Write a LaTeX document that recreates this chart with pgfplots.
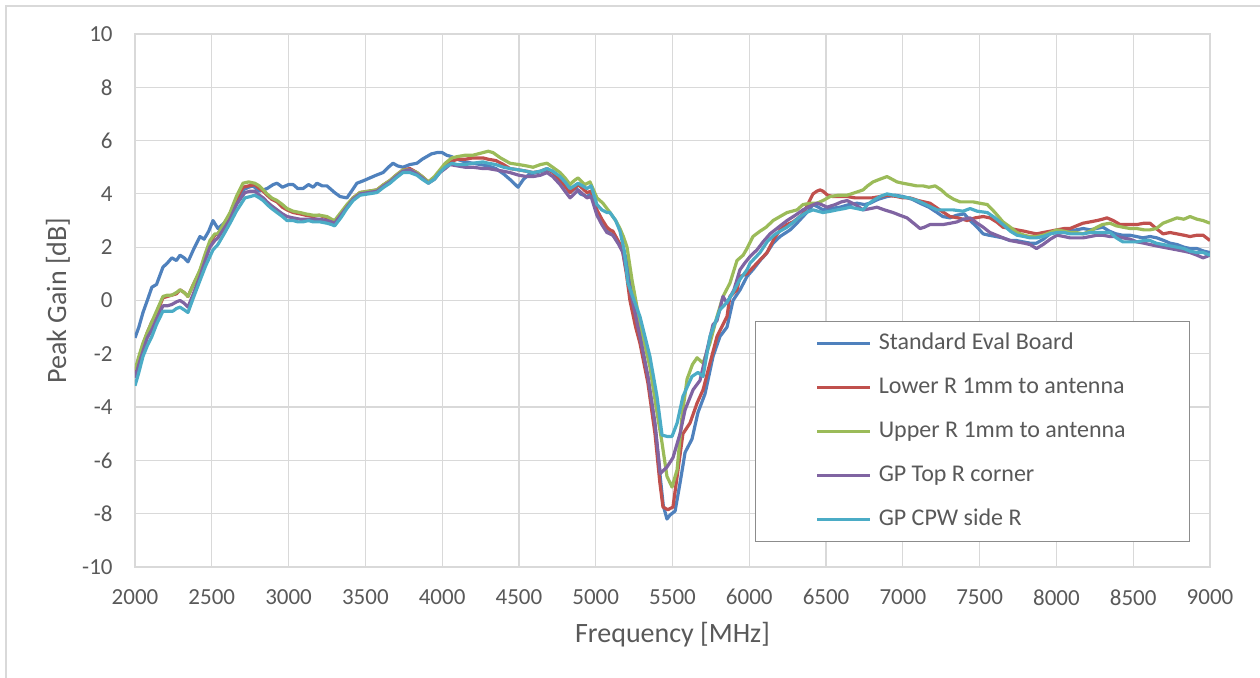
\documentclass[border=0pt]{standalone}
\usepackage{pgfplots}
\pgfplotsset{compat=1.18}
\usepackage{fontspec}
\setmainfont{Carlito}
\definecolor{cblue}{HTML}{4F81BD}
\definecolor{cred}{HTML}{C0504D}
\definecolor{cgreen}{HTML}{9BBB59}
\definecolor{cpurple}{HTML}{8064A2}
\definecolor{ccyan}{HTML}{4BACC6}
\definecolor{gridc}{HTML}{D9D9D9}
\definecolor{txt}{HTML}{595959}
\definecolor{legb}{HTML}{8C8C8C}
\begin{document}
\begin{tikzpicture}
\path[use as bounding box] (-67.5pt,-55.5pt) rectangle (562.5pt,283.5pt);
\begin{axis}[
  scale only axis, width=537.5pt, height=266.5pt,
  xmin=2000, xmax=9000, ymin=-10, ymax=10,
  xtick={2000,2500,...,9000}, ytick={-10,-8,...,10},
  grid=major, major grid style={gridc, line width=0.6pt},
  axis line style={gridc, line width=0.6pt},
  major tick length=0pt,
  /pgf/number format/assume math mode=true,
  /pgf/number format/1000 sep={},
  ticklabel style={font=\fontsize{11.5}{13}\selectfont, text=txt},
  yticklabel style={inner xsep=0pt, xshift=-11pt},
  xticklabel style={inner ysep=0pt, yshift=-11pt},
  every axis x label/.style={at={(axis description cs:0.5,0)}, yshift=-34pt, anchor=center},
  every axis y label/.style={at={(axis description cs:0,0.5)}, xshift=-38.5pt, rotate=90, anchor=center},
  label style={font=\fontsize{14}{16}\selectfont, text=txt},
  xlabel={Frequency [MHz]}, ylabel={Peak Gain [dB]},
  every axis plot/.append style={line width=1.6pt, line join=round, mark=none},
  legend image code/.code={\draw[#1, line width=1.6pt] (0pt,0pt) -- (26.5pt,0pt);},
  legend style={at={(rel axis cs:0.5767,0.4615)}, anchor=north west,
    draw=legb, line width=0.6pt, fill=white, inner xsep=30pt, inner ysep=5pt,
    font=\fontsize{12}{14}\selectfont, text=txt, row sep=10pt,
    nodes={text height=9pt, text depth=3pt, inner ysep=0pt},
    /tikz/every odd column/.append style={column sep=1.5pt}},
  legend cell align=left,
]
\addplot[cblue] coordinates {
(2000,-1.4)(2025,-1.0)(2052,-0.45)(2080,0.0)(2110,0.5)(2140,0.6)(2182,1.25)(2210,1.4)(2240,1.6)(2270,1.5)(2293,1.7)(2320,1.6)(2345,1.45)(2380,1.9)(2423,2.4)(2450,2.3)(2480,2.6)(2508,3.0)(2540,2.7)(2580,2.9)(2619,3.2)(2660,3.6)(2703,4.15)(2740,4.25)(2768,4.3)(2810,4.1)(2860,4.2)(2900,4.35)(2925,4.4)(2960,4.25)(3000,4.35)(3030,4.35)(3060,4.2)(3094,4.2)(3130,4.35)(3160,4.25)(3185,4.4)(3220,4.3)(3250,4.3)(3270,4.2)(3300,4.05)(3335,3.9)(3380,3.85)(3410,4.1)(3445,4.4)(3490,4.5)(3530,4.6)(3570,4.7)(3615,4.8)(3650,5.0)(3680,5.15)(3710,5.05)(3745,5.0)(3790,5.1)(3836,5.15)(3870,5.3)(3900,5.4)(3930,5.5)(3966,5.55)(4000,5.55)(4030,5.45)(4060,5.4)(4097,5.3)(4150,5.2)(4200,5.15)(4250,5.1)(4300,5.05)(4350,4.95)(4400,4.75)(4450,4.5)(4494,4.25)(4530,4.55)(4570,4.75)(4620,4.8)(4683,4.9)(4720,4.85)(4768,4.55)(4800,4.3)(4833,4.05)(4870,4.25)(4900,4.0)(4943,3.9)(4970,4.0)(5008,3.35)(5050,2.9)(5073,2.6)(5112,2.45)(5158,2.1)(5200,1.6)(5240,0.3)(5288,-1.3)(5340,-2.9)(5386,-4.7)(5418,-6.5)(5440,-7.7)(5464,-8.2)(5484,-8.05)(5517,-7.9)(5549,-6.85)(5582,-5.7)(5627,-5.2)(5666,-4.2)(5712,-3.5)(5764,-2.1)(5809,-1.35)(5855,-1.0)(5894,0.0)(5940,0.4)(5985,0.9)(6030,1.2)(6070,1.5)(6110,1.75)(6155,2.15)(6200,2.4)(6266,2.65)(6310,2.9)(6350,3.15)(6390,3.4)(6415,3.6)(6450,3.5)(6480,3.4)(6530,3.45)(6591,3.5)(6650,3.6)(6702,3.65)(6750,3.6)(6786,3.65)(6840,3.8)(6897,3.9)(6950,3.95)(7002,3.9)(7060,3.8)(7112,3.65)(7170,3.5)(7223,3.3)(7260,3.15)(7307,3.1)(7350,3.2)(7400,3.25)(7438,3.0)(7484,2.75)(7523,2.5)(7560,2.45)(7607,2.4)(7650,2.35)(7698,2.25)(7740,2.25)(7783,2.2)(7830,2.15)(7870,2.15)(7915,2.3)(7958,2.5)(8000,2.6)(8043,2.65)(8090,2.6)(8128,2.65)(8175,2.7)(8219,2.65)(8260,2.7)(8303,2.75)(8345,2.6)(8388,2.5)(8430,2.45)(8478,2.45)(8520,2.4)(8563,2.35)(8610,2.4)(8654,2.35)(8700,2.25)(8740,2.15)(8785,2.1)(8830,2.0)(8870,1.95)(8915,1.95)(8960,1.85)(9000,1.8)
};
\addlegendentry{Standard Eval Board}
\addplot[cred] coordinates {
(2000,-2.7)(2025,-2.2)(2052,-1.65)(2080,-1.2)(2110,-0.8)(2140,-0.5)(2182,0.1)(2210,0.15)(2240,0.2)(2270,0.25)(2293,0.4)(2320,0.3)(2345,0.15)(2380,0.6)(2423,1.1)(2460,1.7)(2488,2.15)(2520,2.45)(2540,2.5)(2580,2.85)(2619,3.25)(2660,3.8)(2703,4.25)(2740,4.3)(2780,4.35)(2810,4.2)(2835,4.1)(2860,3.95)(2890,3.8)(2925,3.7)(2960,3.5)(2990,3.4)(3030,3.3)(3075,3.25)(3110,3.2)(3160,3.15)(3200,3.2)(3250,3.1)(3280,3.0)(3300,2.95)(3340,3.25)(3380,3.55)(3420,3.85)(3465,4.05)(3520,4.1)(3575,4.15)(3620,4.35)(3660,4.5)(3700,4.7)(3745,4.9)(3790,4.95)(3836,4.8)(3870,4.65)(3910,4.45)(3950,4.6)(3985,4.85)(4020,5.05)(4051,5.2)(4100,5.3)(4150,5.3)(4200,5.35)(4266,5.35)(4300,5.3)(4350,5.25)(4400,5.1)(4442,4.95)(4500,4.9)(4550,4.85)(4592,4.8)(4640,4.85)(4683,4.95)(4720,4.8)(4768,4.5)(4800,4.3)(4833,4.05)(4860,4.2)(4885,4.35)(4915,4.2)(4943,4.05)(4970,4.1)(5008,3.4)(5040,3.05)(5073,2.75)(5093,2.65)(5112,2.6)(5150,2.2)(5171,2.0)(5200,1.0)(5223,0.0)(5260,-1.0)(5288,-1.6)(5340,-3.1)(5386,-5.0)(5418,-6.85)(5438,-7.75)(5470,-7.85)(5503,-7.75)(5536,-6.35)(5568,-5.0)(5614,-4.6)(5660,-3.85)(5699,-3.35)(5744,-2.35)(5790,-1.35)(5855,-0.6)(5874,0.15)(5920,0.4)(5939,0.9)(5985,1.0)(6050,1.4)(6116,1.8)(6160,2.3)(6200,2.65)(6245,2.85)(6285,2.95)(6320,3.1)(6350,3.25)(6380,3.6)(6415,4.0)(6440,4.1)(6461,4.15)(6480,4.1)(6510,3.95)(6545,3.9)(6590,3.9)(6637,3.9)(6690,3.85)(6741,3.85)(6800,3.85)(6852,3.9)(6900,3.95)(6962,3.9)(7000,3.85)(7047,3.85)(7100,3.75)(7177,3.65)(7240,3.4)(7307,3.15)(7360,3.1)(7418,3.0)(7470,3.1)(7523,3.15)(7567,3.1)(7610,2.95)(7652,2.75)(7700,2.7)(7743,2.65)(7790,2.6)(7828,2.55)(7870,2.5)(7913,2.55)(7960,2.6)(8004,2.65)(8050,2.7)(8089,2.7)(8130,2.8)(8173,2.9)(8220,2.95)(8264,3.0)(8300,3.05)(8329,3.1)(8370,3.0)(8414,2.85)(8470,2.85)(8524,2.85)(8570,2.9)(8609,2.9)(8650,2.7)(8694,2.5)(8740,2.55)(8785,2.5)(8830,2.45)(8870,2.4)(8915,2.45)(8955,2.45)(9000,2.25)
};
\addlegendentry{Lower R 1mm to antenna}
\addplot[cgreen] coordinates {
(2000,-2.6)(2025,-2.1)(2052,-1.6)(2080,-1.2)(2110,-0.8)(2140,-0.4)(2182,0.15)(2210,0.2)(2240,0.2)(2270,0.3)(2293,0.4)(2320,0.3)(2345,0.15)(2380,0.6)(2423,1.15)(2460,1.8)(2488,2.25)(2520,2.5)(2540,2.5)(2580,2.9)(2619,3.3)(2660,3.9)(2703,4.4)(2740,4.45)(2780,4.4)(2810,4.3)(2835,4.15)(2860,4.0)(2890,3.85)(2925,3.75)(2960,3.6)(2990,3.45)(3030,3.35)(3075,3.3)(3110,3.25)(3160,3.2)(3200,3.2)(3250,3.15)(3280,3.05)(3300,3.0)(3340,3.3)(3380,3.6)(3420,3.85)(3465,4.05)(3520,4.1)(3575,4.15)(3620,4.35)(3660,4.5)(3700,4.7)(3745,4.9)(3790,4.9)(3836,4.8)(3870,4.65)(3910,4.45)(3950,4.65)(3985,4.9)(4020,5.15)(4063,5.35)(4100,5.4)(4150,5.45)(4200,5.45)(4266,5.55)(4300,5.6)(4331,5.55)(4380,5.35)(4442,5.15)(4500,5.1)(4550,5.05)(4592,5.0)(4640,5.1)(4683,5.15)(4720,5.0)(4768,4.8)(4800,4.6)(4833,4.35)(4860,4.5)(4885,4.6)(4910,4.45)(4930,4.35)(4963,4.45)(5008,3.85)(5047,3.65)(5093,3.3)(5130,3.0)(5158,2.7)(5180,2.4)(5204,2.0)(5237,0.75)(5288,-0.85)(5353,-2.5)(5399,-4.2)(5432,-5.35)(5464,-6.6)(5497,-7.0)(5530,-6.35)(5562,-4.35)(5595,-2.95)(5630,-2.4)(5660,-2.15)(5699,-2.35)(5744,-1.6)(5790,-0.6)(5829,0.15)(5874,0.65)(5920,1.5)(5960,1.7)(5985,1.95)(6024,2.4)(6070,2.6)(6110,2.75)(6155,3.0)(6200,3.15)(6246,3.3)(6311,3.4)(6350,3.6)(6400,3.65)(6441,3.65)(6480,3.75)(6526,3.9)(6580,3.95)(6637,3.95)(6690,4.05)(6741,4.15)(6770,4.3)(6806,4.45)(6850,4.55)(6897,4.65)(6930,4.55)(6962,4.45)(7000,4.4)(7047,4.35)(7090,4.3)(7132,4.3)(7170,4.25)(7210,4.3)(7250,4.15)(7288,3.95)(7330,3.8)(7373,3.7)(7420,3.7)(7458,3.7)(7500,3.65)(7550,3.6)(7600,3.3)(7652,2.95)(7700,2.75)(7743,2.55)(7790,2.45)(7828,2.4)(7870,2.4)(7913,2.45)(7960,2.55)(8004,2.65)(8050,2.6)(8089,2.55)(8130,2.55)(8173,2.5)(8220,2.6)(8264,2.75)(8300,2.85)(8349,2.9)(8390,2.8)(8433,2.75)(8480,2.7)(8524,2.7)(8570,2.65)(8609,2.65)(8650,2.7)(8694,2.9)(8740,3.0)(8785,3.1)(8830,3.05)(8870,3.15)(8915,3.05)(8955,3.0)(9000,2.9)
};
\addlegendentry{Upper R 1mm to antenna}
\addplot[cpurple] coordinates {
(2000,-2.9)(2025,-2.4)(2052,-1.9)(2080,-1.4)(2110,-1.1)(2140,-0.7)(2182,-0.2)(2210,-0.2)(2240,-0.15)(2270,-0.05)(2293,0.0)(2320,-0.1)(2345,-0.25)(2380,0.25)(2423,0.9)(2460,1.55)(2488,2.0)(2520,2.25)(2540,2.35)(2580,2.7)(2619,3.05)(2660,3.6)(2716,4.05)(2750,4.1)(2780,4.1)(2810,3.95)(2835,3.85)(2860,3.7)(2890,3.55)(2925,3.4)(2960,3.25)(2990,3.15)(3030,3.1)(3075,3.05)(3110,3.05)(3160,3.05)(3200,3.05)(3250,3.0)(3280,2.95)(3300,2.9)(3340,3.2)(3380,3.5)(3420,3.8)(3465,4.0)(3520,4.05)(3575,4.1)(3620,4.3)(3660,4.45)(3700,4.65)(3745,4.85)(3790,4.9)(3836,4.75)(3870,4.6)(3910,4.4)(3950,4.55)(3985,4.8)(4020,4.95)(4051,5.1)(4100,5.05)(4150,5.0)(4200,5.0)(4266,4.95)(4300,4.95)(4350,4.9)(4400,4.85)(4442,4.8)(4500,4.7)(4550,4.65)(4592,4.65)(4640,4.7)(4683,4.8)(4720,4.65)(4768,4.35)(4800,4.1)(4833,3.85)(4860,4.0)(4885,4.15)(4915,4.0)(4943,3.85)(4970,3.9)(5008,3.2)(5040,2.85)(5073,2.55)(5093,2.5)(5112,2.45)(5150,2.1)(5177,1.8)(5210,0.8)(5250,-0.3)(5288,-1.35)(5340,-2.85)(5386,-4.6)(5420,-6.5)(5464,-6.25)(5503,-5.9)(5549,-5.0)(5582,-4.1)(5634,-3.35)(5679,-3.0)(5725,-1.85)(5764,-0.9)(5790,-0.75)(5829,0.15)(5855,-0.1)(5900,0.4)(5939,1.15)(5970,1.4)(6005,1.65)(6050,1.9)(6090,2.2)(6135,2.5)(6190,2.75)(6246,3.0)(6300,3.2)(6350,3.4)(6400,3.55)(6441,3.65)(6470,3.6)(6506,3.5)(6560,3.6)(6600,3.7)(6637,3.75)(6690,3.6)(6741,3.4)(6790,3.45)(6832,3.5)(6880,3.4)(6936,3.3)(6980,3.2)(7027,3.1)(7070,2.9)(7112,2.7)(7140,2.75)(7177,2.85)(7220,2.85)(7262,2.85)(7310,2.9)(7353,2.95)(7392,3.05)(7438,3.1)(7484,2.9)(7523,2.75)(7567,2.55)(7610,2.45)(7652,2.35)(7700,2.25)(7743,2.2)(7790,2.15)(7828,2.1)(7870,1.95)(7913,2.1)(7960,2.3)(8004,2.45)(8050,2.4)(8089,2.35)(8130,2.35)(8173,2.35)(8220,2.4)(8264,2.45)(8300,2.45)(8349,2.4)(8390,2.4)(8433,2.35)(8480,2.3)(8524,2.2)(8570,2.15)(8609,2.1)(8650,2.05)(8694,2.0)(8740,1.95)(8785,1.9)(8830,1.85)(8870,1.8)(8915,1.7)(8955,1.6)(9000,1.7)
};
\addlegendentry{GP Top R corner}
\addplot[ccyan] coordinates {
(2000,-3.2)(2025,-2.7)(2052,-2.1)(2080,-1.7)(2110,-1.35)(2140,-0.9)(2182,-0.4)(2210,-0.4)(2247,-0.4)(2270,-0.3)(2293,-0.25)(2320,-0.35)(2345,-0.45)(2380,0.1)(2423,0.75)(2460,1.3)(2508,1.9)(2540,2.1)(2580,2.5)(2619,2.9)(2660,3.35)(2716,3.85)(2750,3.9)(2780,3.95)(2810,3.85)(2835,3.75)(2860,3.6)(2890,3.45)(2925,3.3)(2960,3.15)(2990,3.0)(3030,3.0)(3060,2.95)(3094,2.95)(3130,3.0)(3160,2.95)(3205,2.95)(3250,2.9)(3280,2.85)(3300,2.8)(3340,3.1)(3380,3.45)(3420,3.75)(3465,3.95)(3520,4.0)(3575,4.05)(3620,4.25)(3660,4.4)(3700,4.6)(3745,4.8)(3790,4.8)(3836,4.7)(3870,4.55)(3910,4.4)(3950,4.55)(3985,4.8)(4020,5.0)(4063,5.15)(4100,5.1)(4150,5.1)(4200,5.15)(4266,5.2)(4300,5.15)(4350,5.1)(4400,5.0)(4442,4.95)(4500,4.9)(4550,4.85)(4592,4.8)(4640,4.85)(4683,4.95)(4720,4.85)(4768,4.65)(4800,4.45)(4833,4.2)(4860,4.3)(4885,4.4)(4915,4.3)(4943,4.2)(4970,4.3)(5008,3.6)(5040,3.4)(5073,3.3)(5093,3.3)(5130,3.0)(5158,2.6)(5185,1.9)(5210,0.65)(5250,0.0)(5288,-0.6)(5353,-2.1)(5399,-3.6)(5432,-5.05)(5464,-5.1)(5497,-5.1)(5530,-4.6)(5568,-3.6)(5627,-2.85)(5666,-2.7)(5699,-2.85)(5744,-1.35)(5809,-0.35)(5850,-0.1)(5894,0.3)(5940,0.8)(5985,1.15)(6005,1.4)(6070,1.8)(6116,2.2)(6160,2.45)(6200,2.6)(6246,2.75)(6290,2.95)(6330,3.15)(6370,3.3)(6415,3.4)(6480,3.3)(6530,3.35)(6571,3.4)(6620,3.45)(6656,3.5)(6700,3.45)(6741,3.4)(6770,3.6)(6806,3.75)(6850,3.9)(6897,4.0)(6940,3.95)(6982,3.9)(7040,3.85)(7093,3.75)(7150,3.6)(7223,3.4)(7270,3.4)(7327,3.4)(7392,3.35)(7438,3.45)(7484,3.35)(7550,3.3)(7600,3.1)(7652,2.85)(7700,2.6)(7743,2.45)(7790,2.4)(7828,2.35)(7870,2.35)(7913,2.4)(7960,2.5)(8004,2.55)(8050,2.55)(8089,2.5)(8130,2.5)(8173,2.5)(8220,2.55)(8264,2.55)(8300,2.55)(8349,2.55)(8390,2.35)(8433,2.2)(8480,2.2)(8524,2.2)(8570,2.25)(8609,2.25)(8650,2.15)(8694,2.1)(8740,2.05)(8785,2.0)(8830,1.95)(8870,1.85)(8915,1.8)(8955,1.8)(9000,1.7)
};
\addlegendentry{GP CPW side R}
\end{axis}
\draw[gridc, line width=1pt] (-64.5pt,-60pt) -- (-64.5pt,280.5pt) -- (570pt,280.5pt);
\end{tikzpicture}
\end{document}
